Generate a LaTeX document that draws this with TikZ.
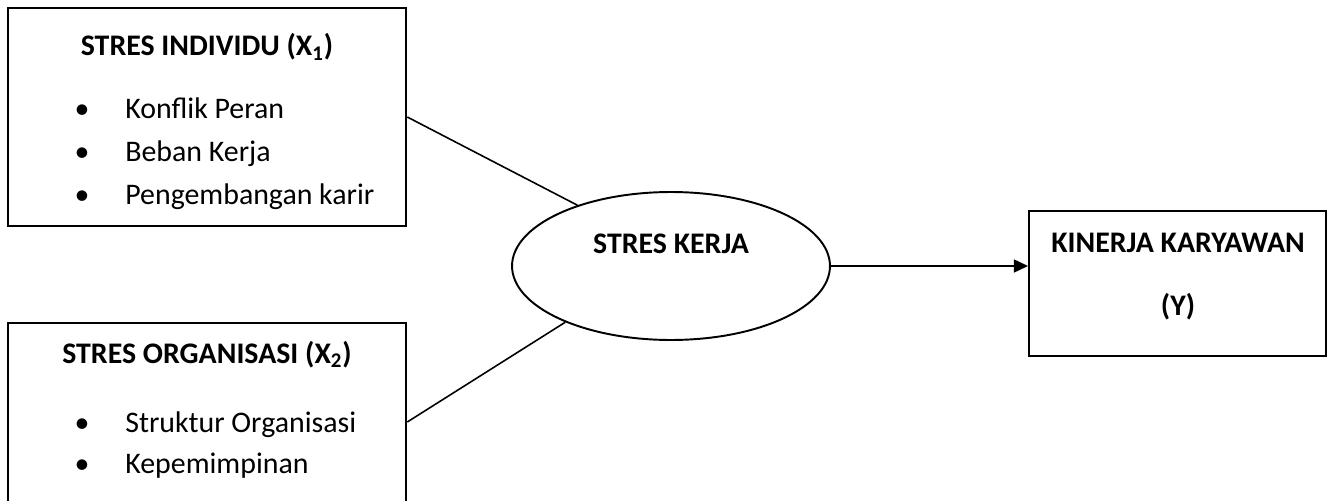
\documentclass[tikz,border=0pt]{standalone}
\usepackage{fontspec}
\setmainfont{Carlito}
\usetikzlibrary{arrows.meta, shapes.geometric, positioning}
\newcommand{\docsize}{\fontsize{17}{20}\selectfont}
\tikzset{
  box/.style={draw, line width=1.2pt, rectangle, inner sep=0pt},
  oval/.style={draw, line width=1.1pt, ellipse, inner sep=0pt},
  ttl/.style={anchor=base, font=\docsize\bfseries, inner sep=0pt},
  itm/.style={anchor=base west, font=\docsize, inner sep=0pt},
  bul/.style={anchor=base, font=\docsize, inner sep=0pt},
  link/.style={line width=0.9pt}
}

\begin{document}
\begin{tikzpicture}[x=0.02cm, y=-0.02cm]
  \useasboundingbox (0,0) rectangle (1331,500);
  % stres individu
  \node[box, minimum width=7.97cm, minimum height=4.36cm] (indiv) at (207,117) {};
  \node[ttl] (indivT) at (207,56) {STRES INDIVIDU (X\textsubscript{1})};
  \node[bul] (b1) at (82,118) {•}; \node[itm] (i1) at (125,118) {Konflik Peran};
  \node[bul] (b2) at (82,161) {•}; \node[itm] (i2) at (125,161) {Beban Kerja};
  \node[bul] (b3) at (82,204) {•}; \node[itm] (i3) at (125,204) {Pengembangan karir};
  % stres organisasi
  \node[box, minimum width=7.97cm, minimum height=3.96cm] (organ) at (207,422) {};
  \node[ttl] (organT) at (207,363) {STRES ORGANISASI (X\textsubscript{2})};
  \node[bul] (b4) at (82,432) {•}; \node[itm] (i4) at (125,432) {Struktur Organisasi};
  \node[bul] (b5) at (82,473) {•}; \node[itm] (i5) at (125,473) {Kepemimpinan};
  % stres kerja
  \node[oval, minimum width=6.36cm, minimum height=2.96cm] (stres) at (671,266) {};
  \node[ttl] (stresT) at (671,253) {STRES KERJA};
  % kinerja
  \node[box, minimum width=5.94cm, minimum height=2.9cm] (kinerja) at (1177.5,283.5) {};
  \node[ttl] (kinT1) at (1178,252) {KINERJA KARYAWAN};
  \node[ttl] (kinT2) at (1178,315) {(Y)};
  %
  \draw[link] (indiv.east) -- (stres.147);
  \draw[link] (organ.east) -- (stres.208);
  \draw[link, -{Triangle[length=0.28cm, width=0.26cm]}] (stres.east) -- (stres.east -| kinerja.west);
\end{tikzpicture}
\end{document}
